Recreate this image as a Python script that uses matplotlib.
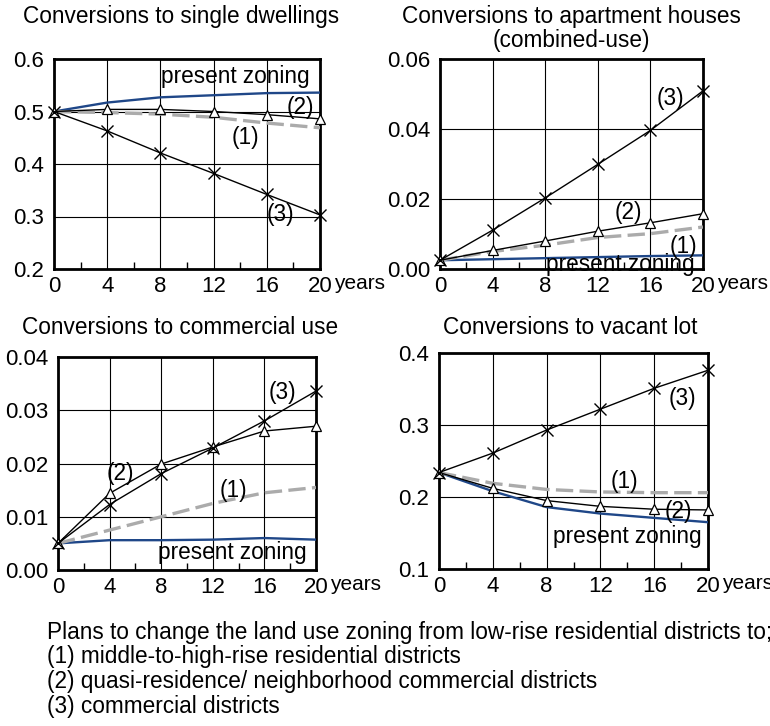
import numpy as np
import matplotlib
matplotlib.use("Agg")
import matplotlib.pyplot as plt

plt.rcParams['font.family'] = ['Liberation Sans', 'DejaVu Sans']

years = [0, 4, 8, 12, 16, 20]

# conversions to single dwellings
single_present = [0.500, 0.517, 0.527, 0.531, 0.535, 0.536]
single_1 = [0.500, 0.498, 0.495, 0.489, 0.478, 0.469]
single_2 = [0.500, 0.504, 0.504, 0.500, 0.494, 0.486]
single_3 = [0.500, 0.463, 0.421, 0.382, 0.342, 0.303]

# conversions to apartment houses (combined-use)
apart_present = [0.0025, 0.0028, 0.0031, 0.0034, 0.0037, 0.0039]
apart_1 = [0.0025, 0.0050, 0.0068, 0.0090, 0.0101, 0.0120]
apart_2 = [0.0025, 0.0053, 0.0080, 0.0108, 0.0132, 0.0158]
apart_3 = [0.0025, 0.0111, 0.0203, 0.0299, 0.0396, 0.0509]

# conversions to commercial use
comm_present = [0.0050, 0.0056, 0.0056, 0.0057, 0.0060, 0.0057]
comm_1 = [0.0050, 0.0075, 0.0100, 0.0125, 0.0145, 0.0155]
comm_2 = [0.0050, 0.0144, 0.0199, 0.0231, 0.0261, 0.0270]
comm_3 = [0.0050, 0.0123, 0.0181, 0.0229, 0.0280, 0.0336]

# conversions to vacant lot
vacant_present = [0.234, 0.208, 0.186, 0.177, 0.171, 0.165]
vacant_1 = [0.234, 0.219, 0.2105, 0.207, 0.206, 0.206]
vacant_2 = [0.234, 0.212, 0.195, 0.187, 0.183, 0.182]
vacant_3 = [0.234, 0.261, 0.293, 0.322, 0.351, 0.376]

legend_lines = [
    "Plans to change the land use zoning from low-rise residential districts to;",
    "(1) middle-to-high-rise residential districts",
    "(2) quasi-residence/ neighborhood commercial districts",
    "(3) commercial districts",
]

W, H = 770, 726
fig = plt.figure(figsize=(W / 100, H / 100), dpi=100)

BLUE = "#1f4788"
GRAY = "#ababab"
FS = 16


def make_axes(left, top, right, bottom):
    return fig.add_axes([left / W, 1 - bottom / H, (right - left) / W, (bottom - top) / H])


def draw_panel(ax, present, s1, s2, s3, ylim, yticks, fmt, labels):
    ax.plot(years, present, color=BLUE, lw=1.7, zorder=3)
    ax.plot(years, s1, color=GRAY, lw=2.4, dashes=(5.2, 1.9), zorder=3)
    ax.plot(years, s2, color="black", lw=1.0, marker="^", ms=7.5,
            mfc="white", mec="black", mew=0.9, zorder=4, clip_on=False)
    ax.plot(years, s3, color="black", lw=1.0, marker="x", ms=8, mew=1.0,
            zorder=4, clip_on=False)

    ax.set_xlim(0, 20)
    ax.set_ylim(*ylim)
    ax.set_xticks(years)
    ax.set_xticks([2, 6, 10, 14, 18], minor=True)
    ax.set_yticks(yticks)
    ax.set_yticklabels([fmt.format(v) for v in yticks])
    ax.tick_params(axis="both", which="both", direction="in", labelsize=FS)
    ax.tick_params(axis="x", which="major", length=0, pad=5)
    ax.tick_params(axis="x", which="minor", length=5, width=1)
    ax.tick_params(axis="y", which="major", length=0, pad=7)
    ax.grid(True, color="black", lw=0.8)
    for sp in ax.spines.values():
        sp.set_linewidth(2)
    ax.annotate("years", xy=(1, 0), xycoords="axes fraction",
                xytext=(10, -3.8), textcoords="offset points",
                ha="left", va="top", fontsize=15)
    for txt, x, y in labels:
        ax.text(x, y, txt, ha="center", va="center", fontsize=16.3, zorder=5)


ax1 = make_axes(54, 59, 320, 269)
draw_panel(ax1, single_present, single_1, single_2, single_3,
           (0.2, 0.6), [0.2, 0.3, 0.4, 0.5, 0.6], "{:.1f}",
           [("present zoning", 13.6, 0.566), ("(2)", 18.5, 0.507),
            ("(1)", 14.4, 0.450), ("(3)", 17.0, 0.303)])
fig.text(181 / W, 1 - 17 / H, "Conversions to single dwellings",
         ha="center", va="center", fontsize=16.3)

ax2 = make_axes(440, 59, 703, 269)
draw_panel(ax2, apart_present, apart_1, apart_2, apart_3,
           (0, 0.06), [0.0, 0.02, 0.04, 0.06], "{:.2f}",
           [("(3)", 17.5, 0.0487), ("(2)", 14.3, 0.0162),
            ("(1)", 18.5, 0.0063), ("present zoning", 13.7, 0.0014)])
fig.text(571 / W, 1 - 17 / H, "Conversions to apartment houses",
         ha="center", va="center", fontsize=16.3)
fig.text(571 / W, 1 - 41 / H, "(combined-use)",
         ha="center", va="center", fontsize=16.3)

ax3 = make_axes(58, 357, 316, 570)
draw_panel(ax3, comm_present, comm_1, comm_2, comm_3,
           (0, 0.04), [0.0, 0.01, 0.02, 0.03, 0.04], "{:.2f}",
           [("(3)", 17.4, 0.0334), ("(2)", 4.8, 0.0181),
            ("(1)", 13.6, 0.0150), ("present zoning", 13.5, 0.00325)])
fig.text(180 / W, 1 - 328 / H, "Conversions to commercial use",
         ha="center", va="center", fontsize=16.3)

ax4 = make_axes(439, 353, 708, 569)
draw_panel(ax4, vacant_present, vacant_1, vacant_2, vacant_3,
           (0.1, 0.4), [0.1, 0.2, 0.3, 0.4], "{:.1f}",
           [("(3)", 18.1, 0.337), ("(1)", 13.8, 0.222),
            ("(2)", 17.8, 0.180), ("present zoning", 14.0, 0.1455)])
fig.text(570 / W, 1 - 328 / H, "Conversions to vacant lot",
         ha="center", va="center", fontsize=16.3)

for i, line in enumerate(legend_lines):
    fig.text(47 / W, 1 - (632 + i * 24.7) / H, line, ha="left", va="center",
             fontsize=16.3)

fig.savefig("out.png", dpi=100)
